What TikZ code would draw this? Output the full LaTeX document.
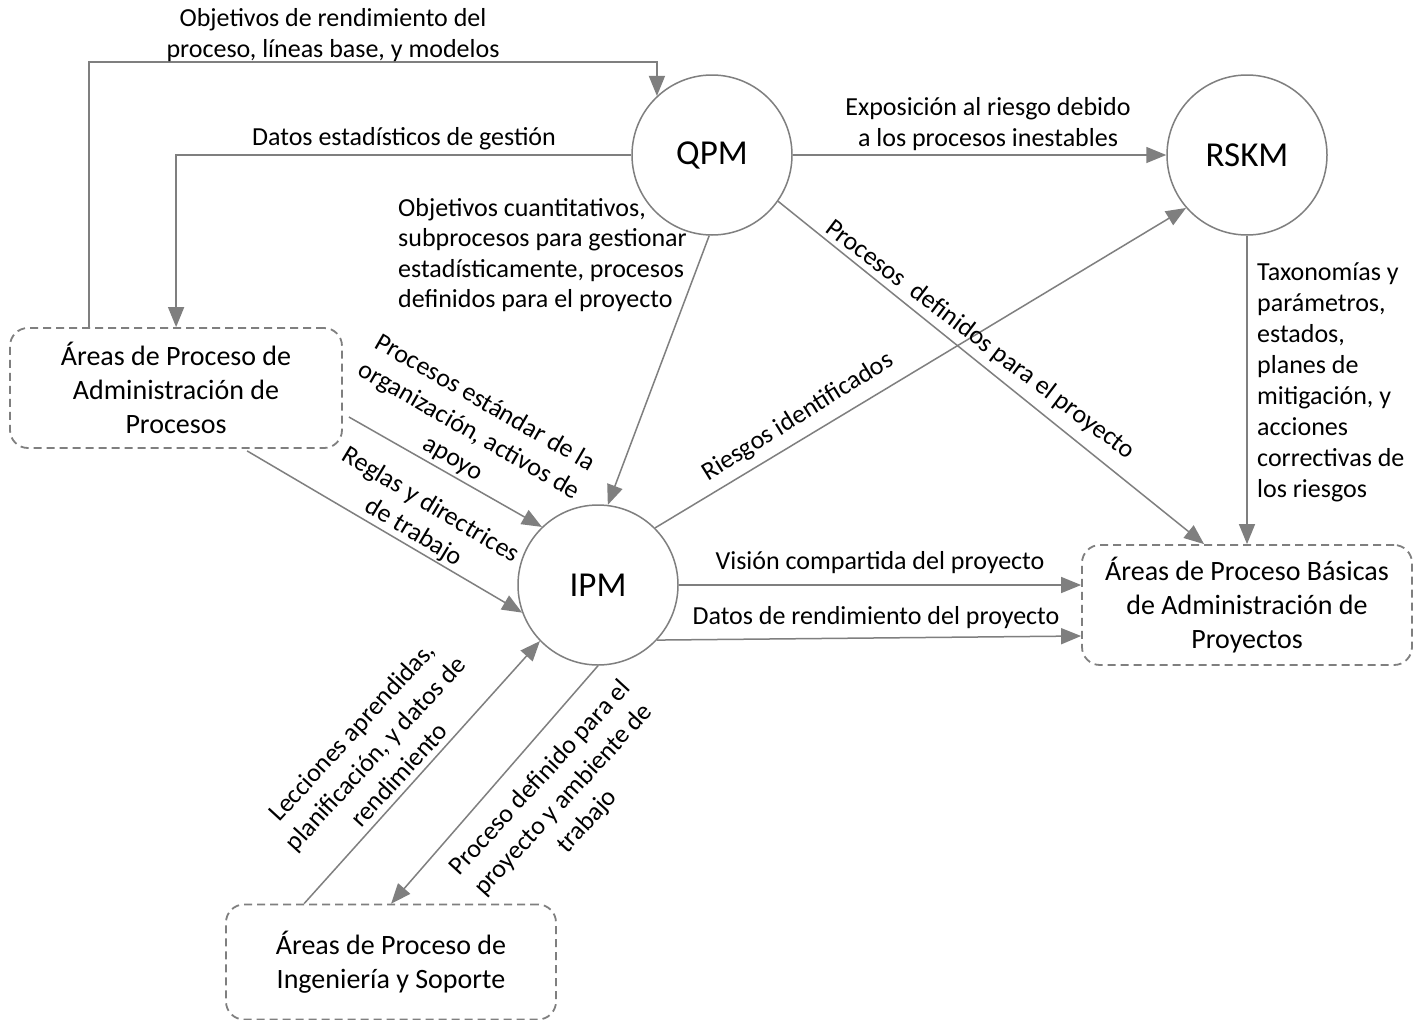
\documentclass[tikz,border=0pt]{standalone}
\usepackage{fontspec}
\setmainfont{Carlito}
\usetikzlibrary{arrows.meta,calc}
\definecolor{edge}{HTML}{7F7F7F}
\begin{document}
\begin{tikzpicture}[x=1pt,y=-1pt,
  proc/.style={circle,draw=edge,line width=1.5pt,minimum size=160pt,inner sep=0pt,
    font=\fontsize{35}{40}\selectfont},
  area/.style={rectangle,rounded corners=18pt,draw=edge,line width=1.8pt,
    dash pattern=on 8pt off 5pt,minimum width=330pt,minimum height=120pt,
    align=center,inner sep=0pt,font=\fontsize{28}{34}\selectfont},
  flow/.style={draw=edge,line width=1.5pt,-{Triangle[length=20pt,width=16pt]}},
  lbl/.style={inner sep=0pt,align=center,font=\fontsize{26}{30.5}\selectfont},
  lbll/.style={lbl,align=left},
  slant/.style={lbl,font=\fontsize{26}{32}\selectfont},
]
\useasboundingbox (0,0) rectangle (1422,1020);
\fill[white] (0,0) rectangle (1422,1020);

% process areas (circles)
\node[proc] (qpm)  at (712,155) {QPM};
\node[proc] (rskm) at (1247,155) {RSKM};
\node[proc] (ipm)  at (598,585) {IPM};

% groups of process areas (dashed boxes)
\node[area,minimum width=332pt] (lbox) at (176,388) {Áreas de Proceso de\\Administración de\\Procesos};
\node[area] (rbox) at (1247,605) {Áreas de Proceso Básicas\\de Administración de\\Proyectos};
\node[area,minimum height=115pt] (bbox) at (391,962) {Áreas de Proceso de\\Ingeniería y Soporte};

% connectors
\draw[flow] ($(lbox.north west)+(80,0)$) |- ($(qpm.133.5)+(0,-34)$) -- (qpm.133.5);
\draw[flow] (qpm.west) -| ($(lbox.north west)+(167,0)$);
\draw[flow] (qpm.east) -- (rskm.west);
\draw[flow] (qpm.-92) -- (ipm.83);
\draw[flow] (qpm.-35) -- ($(rbox.north west)+(123,0)$);
\draw[flow] (ipm.45) -- (rskm.221.5);
\draw[flow] (rskm.south) -- (rskm.south |- rbox.north);
\draw[flow] ($(lbox.east)+(6,29)$) -- (ipm.134);
\draw[flow] ($(lbox.south west)+(238,2)$) -- (ipm.200);
\draw[flow] (ipm.east) -- (ipm.east -| rbox.west);
\draw[flow] (ipm.-43.5) -- ($(rbox.west)+(0,31)$);
\draw[flow] ($(bbox.north west)+(79,0)$) -- (ipm.224.5);
\draw[flow] (ipm.south) -- ($(bbox.north west)+(166,0)$);

% connector labels
\node[lbl] (t1) at (333,35) {Objetivos de rendimiento del\\proceso, líneas base, y modelos};
\node[lbl] (t2) at (404,139) {Datos estadísticos de gestión};
\node[lbl] (t3) at (988,124) {Exposición al riesgo debido\\a los procesos inestables};
\node[lbll,anchor=west] (t4) at (398,255) {Objetivos cuantitativos,\\subprocesos para gestionar\\estadísticamente, procesos\\definidos para el proyecto};
\node[lbl,rotate=-37] (t5) at (980,340) {Procesos\ \ definidos para el proyecto};
\node[lbl,rotate=32] (t6) at (798,417) {Riesgos identificados};
\node[lbll,anchor=west,font=\fontsize{26}{31}\selectfont] (t7) at (1257,382) {Taxonomías y\\parámetros,\\estados,\\planes de\\mitigación, y\\acciones\\correctivas de\\los riesgos};
\node[slant,rotate=-30] (t8) at (469,431) {Procesos estándar de la\\organización, activos de\\apoyo};
\node[slant,rotate=-31] (t9) at (422,519) {Reglas y directrices\\de trabajo};
\node[lbl] (t10) at (880,563) {Visión compartida del proyecto};
\node[lbl] (t11) at (876,618) {Datos de rendimiento del proyecto};
\node[slant,rotate=47.5] (t12) at (375,753) {Lecciones aprendidas,\\planificación, y datos de\\rendimiento};
\node[slant,rotate=47.5] (t13) at (564,800) {Proceso definido para el\\proyecto y ambiente de\\trabajo};
\end{tikzpicture}
\end{document}
